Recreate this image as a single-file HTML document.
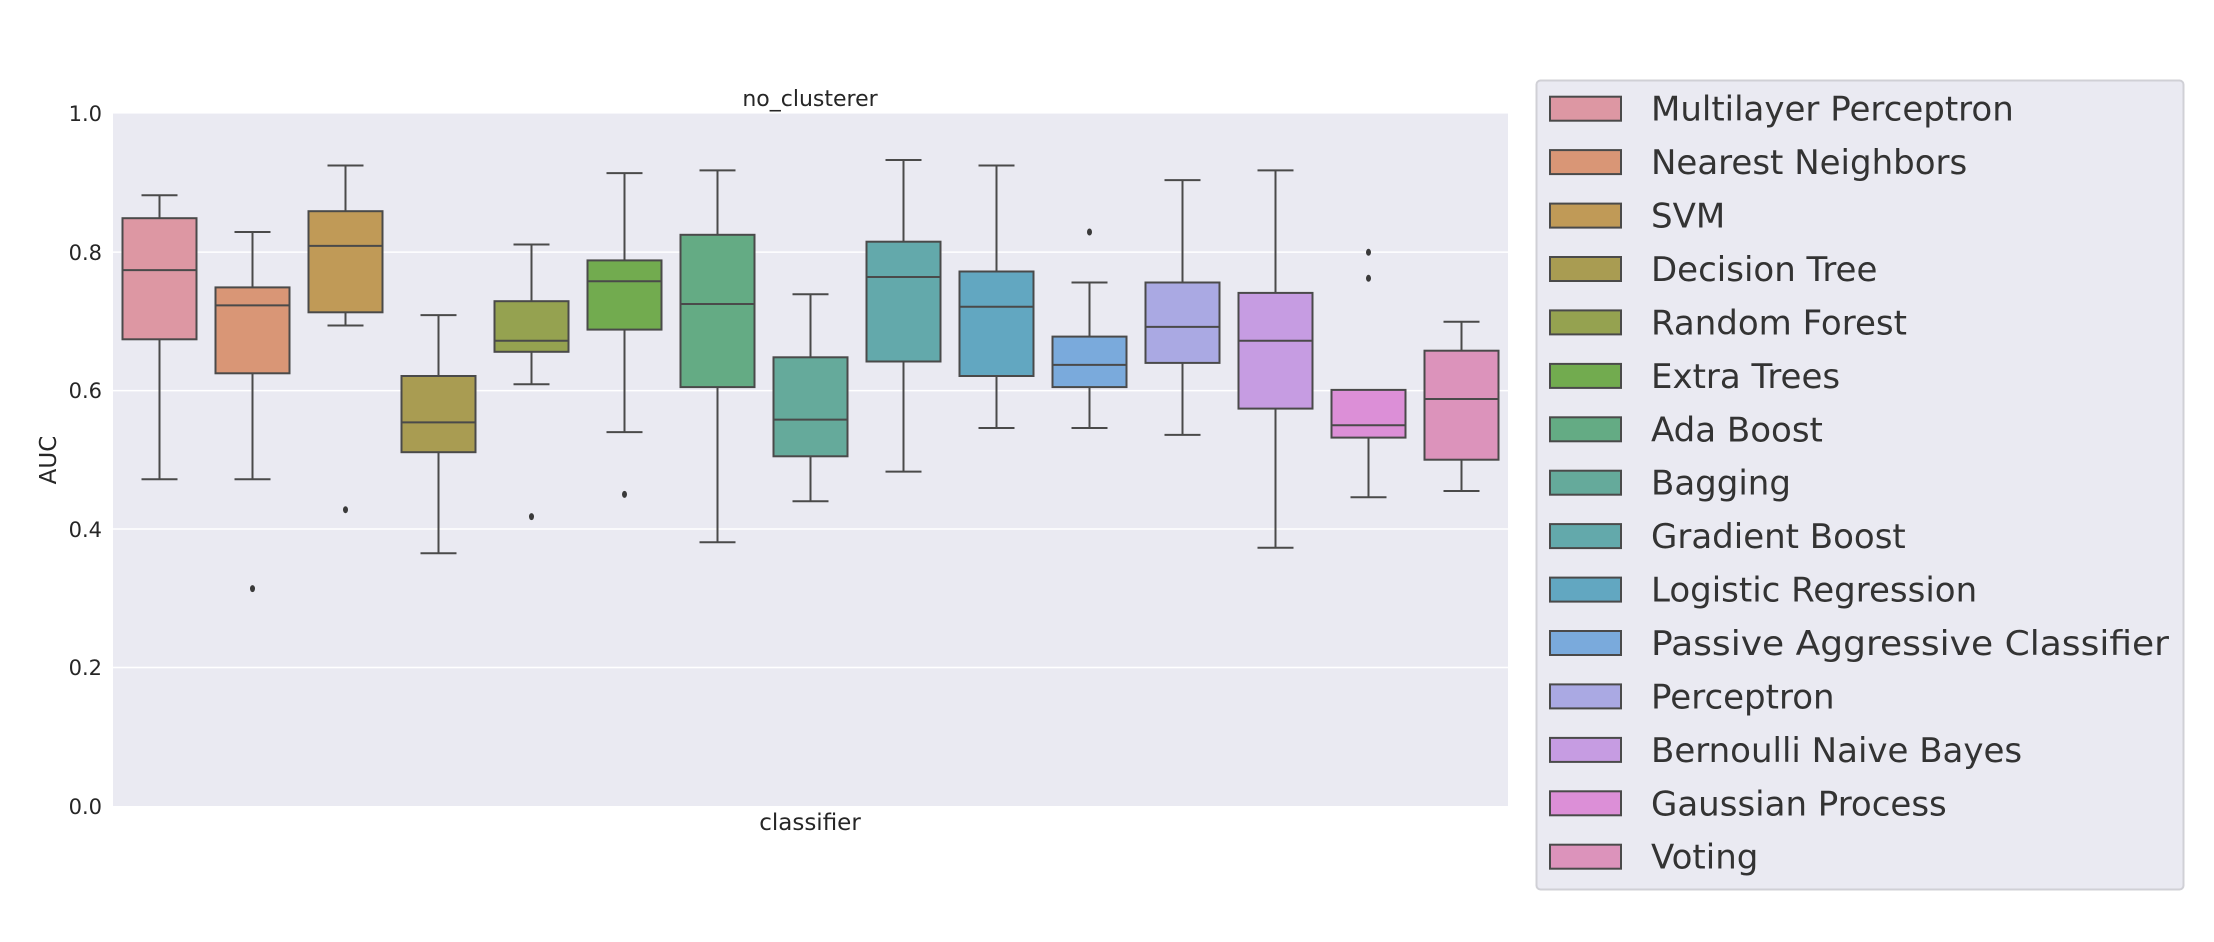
<!DOCTYPE html>
<html><head><meta charset="utf-8"><style>html,body{margin:0;padding:0;background:#fff}svg{display:block}</style></head><body>
<svg width="2214" height="942" xmlns="http://www.w3.org/2000/svg" font-family="'DejaVu Sans','Liberation Sans',sans-serif">
<rect x="113" y="113.6" width="1395" height="692.4" fill="#eaeaf2"/>
<g stroke="#fff" stroke-width="1.5">
<line x1="113" x2="1508" y1="667.5" y2="667.5"/><line x1="113" x2="1508" y1="529" y2="529"/>
<line x1="113" x2="1508" y1="390.6" y2="390.6"/><line x1="113" x2="1508" y1="252.1" y2="252.1"/>
</g>
<g font-size="21" fill="#262626" text-anchor="end">
<text x="102" y="121">1.0</text><text x="102" y="260">0.8</text><text x="102" y="398">0.6</text>
<text x="102" y="537">0.4</text><text x="102" y="675">0.2</text><text x="102" y="814">0.0</text>
</g>
<text x="810" y="106" font-size="22" fill="#262626" text-anchor="middle">no_clusterer</text>
<text x="810" y="830" font-size="23" fill="#262626" text-anchor="middle">classifier</text>
<text transform="translate(56,460) rotate(-90)" font-size="23" fill="#262626" text-anchor="middle">AUC</text>
<g stroke="#4a4a4a" stroke-width="2">
<line x1="159.5" x2="159.5" y1="195.3" y2="479.2"/><line x1="141.5" x2="177.5" y1="195.3" y2="195.3"/><line x1="141.5" x2="177.5" y1="479.2" y2="479.2"/>
<rect x="122.5" y="218.2" width="74" height="121.1" fill="#dd97a3"/><line x1="122.5" x2="196.5" y1="270.1" y2="270.1"/>
<line x1="252.5" x2="252.5" y1="232" y2="479.2"/><line x1="234.5" x2="270.5" y1="232" y2="232"/><line x1="234.5" x2="270.5" y1="479.2" y2="479.2"/>
<rect x="215.5" y="287.4" width="74" height="85.9" fill="#d99676"/><line x1="215.5" x2="289.5" y1="305.4" y2="305.4"/>
<line x1="345.5" x2="345.5" y1="165.5" y2="325.5"/><line x1="327.5" x2="363.5" y1="165.5" y2="165.5"/><line x1="327.5" x2="363.5" y1="325.5" y2="325.5"/>
<rect x="308.5" y="211.2" width="74" height="101.1" fill="#c09a57"/><line x1="308.5" x2="382.5" y1="245.9" y2="245.9"/>
<line x1="438.5" x2="438.5" y1="315.1" y2="553.3"/><line x1="420.5" x2="456.5" y1="315.1" y2="315.1"/><line x1="420.5" x2="456.5" y1="553.3" y2="553.3"/>
<rect x="401.5" y="376" width="74" height="76.2" fill="#a99c52"/><line x1="401.5" x2="475.5" y1="422.4" y2="422.4"/>
<line x1="531.5" x2="531.5" y1="244.5" y2="384.3"/><line x1="513.5" x2="549.5" y1="244.5" y2="244.5"/><line x1="513.5" x2="549.5" y1="384.3" y2="384.3"/>
<rect x="494.5" y="301.2" width="74" height="50.6" fill="#95a250"/><line x1="494.5" x2="568.5" y1="340.7" y2="340.7"/>
<line x1="624.5" x2="624.5" y1="173.1" y2="432.1"/><line x1="606.5" x2="642.5" y1="173.1" y2="173.1"/><line x1="606.5" x2="642.5" y1="432.1" y2="432.1"/>
<rect x="587.5" y="260.4" width="74" height="69.2" fill="#72ab4f"/><line x1="587.5" x2="661.5" y1="281.2" y2="281.2"/>
<line x1="717.5" x2="717.5" y1="170.4" y2="542.2"/><line x1="699.5" x2="735.5" y1="170.4" y2="170.4"/><line x1="699.5" x2="735.5" y1="542.2" y2="542.2"/>
<rect x="680.5" y="234.8" width="74" height="152.3" fill="#64ab84"/><line x1="680.5" x2="754.5" y1="304" y2="304"/>
<line x1="810.5" x2="810.5" y1="294.3" y2="501.3"/><line x1="792.5" x2="828.5" y1="294.3" y2="294.3"/><line x1="792.5" x2="828.5" y1="501.3" y2="501.3"/>
<rect x="773.5" y="357.3" width="74" height="99" fill="#65aa9b"/><line x1="773.5" x2="847.5" y1="419.6" y2="419.6"/>
<line x1="903.5" x2="903.5" y1="160" y2="471.6"/><line x1="885.5" x2="921.5" y1="160" y2="160"/><line x1="885.5" x2="921.5" y1="471.6" y2="471.6"/>
<rect x="866.5" y="241.7" width="74" height="119.8" fill="#63a9ab"/><line x1="866.5" x2="940.5" y1="277" y2="277"/>
<line x1="996.5" x2="996.5" y1="165.5" y2="428"/><line x1="978.5" x2="1014.5" y1="165.5" y2="165.5"/><line x1="978.5" x2="1014.5" y1="428" y2="428"/>
<rect x="959.5" y="271.5" width="74" height="104.5" fill="#62a7c1"/><line x1="959.5" x2="1033.5" y1="306.8" y2="306.8"/>
<line x1="1089.5" x2="1089.5" y1="282.5" y2="428"/><line x1="1071.5" x2="1107.5" y1="282.5" y2="282.5"/><line x1="1071.5" x2="1107.5" y1="428" y2="428"/>
<rect x="1052.5" y="336.6" width="74" height="50.5" fill="#7aaadc"/><line x1="1052.5" x2="1126.5" y1="364.9" y2="364.9"/>
<line x1="1182.5" x2="1182.5" y1="180.1" y2="434.9"/><line x1="1164.5" x2="1200.5" y1="180.1" y2="180.1"/><line x1="1164.5" x2="1200.5" y1="434.9" y2="434.9"/>
<rect x="1145.5" y="282.5" width="74" height="80.4" fill="#aaa9e3"/><line x1="1145.5" x2="1219.5" y1="326.9" y2="326.9"/>
<line x1="1275.5" x2="1275.5" y1="170.4" y2="547.7"/><line x1="1257.5" x2="1293.5" y1="170.4" y2="170.4"/><line x1="1257.5" x2="1293.5" y1="547.7" y2="547.7"/>
<rect x="1238.5" y="292.9" width="74" height="115.7" fill="#c69ce2"/><line x1="1238.5" x2="1312.5" y1="340.7" y2="340.7"/>
<line x1="1368.5" x2="1368.5" y1="389.9" y2="497.2"/><line x1="1350.5" x2="1386.5" y1="497.2" y2="497.2"/>
<rect x="1331.5" y="389.9" width="74" height="47.7" fill="#dc8fd7"/><line x1="1331.5" x2="1405.5" y1="425.2" y2="425.2"/>
<line x1="1461.5" x2="1461.5" y1="321.7" y2="491"/><line x1="1443.5" x2="1479.5" y1="321.7" y2="321.7"/><line x1="1443.5" x2="1479.5" y1="491" y2="491"/>
<rect x="1424.5" y="350.7" width="74" height="109" fill="#dc93bb"/><line x1="1424.5" x2="1498.5" y1="399" y2="399"/>
</g>
<g fill="#3a3a3a">
<ellipse cx="252.5" cy="588.6" rx="2.5" ry="3.5"/><ellipse cx="345.5" cy="509.7" rx="2.5" ry="3.5"/>
<ellipse cx="531.5" cy="516.6" rx="2.5" ry="3.5"/><ellipse cx="624.5" cy="494.4" rx="2.5" ry="3.5"/>
<ellipse cx="1089.5" cy="232" rx="2.5" ry="3.5"/><ellipse cx="1368.5" cy="252.3" rx="2.5" ry="3.5"/>
<ellipse cx="1368.5" cy="278.3" rx="2.5" ry="3.5"/>
</g>
<rect x="1536.5" y="80.5" width="647" height="809" rx="4" fill="#eaeaf2" stroke="#d0d0d6" stroke-width="2"/>
<g stroke="#4a4a4a" stroke-width="2">
<rect x="1550" y="96.7" width="71" height="24" fill="#dd97a3"/>
<rect x="1550" y="150.1" width="71" height="24" fill="#d99676"/>
<rect x="1550" y="203.6" width="71" height="24" fill="#c09a57"/>
<rect x="1550" y="257" width="71" height="24" fill="#a99c52"/>
<rect x="1550" y="310.4" width="71" height="24" fill="#95a250"/>
<rect x="1550" y="363.9" width="71" height="24" fill="#72ab4f"/>
<rect x="1550" y="417.3" width="71" height="24" fill="#64ab84"/>
<rect x="1550" y="470.7" width="71" height="24" fill="#65aa9b"/>
<rect x="1550" y="524.1" width="71" height="24" fill="#63a9ab"/>
<rect x="1550" y="577.6" width="71" height="24" fill="#62a7c1"/>
<rect x="1550" y="631" width="71" height="24" fill="#7aaadc"/>
<rect x="1550" y="684.4" width="71" height="24" fill="#aaa9e3"/>
<rect x="1550" y="737.9" width="71" height="24" fill="#c69ce2"/>
<rect x="1550" y="791.3" width="71" height="24" fill="#dc8fd7"/>
<rect x="1550" y="844.7" width="71" height="24" fill="#dc93bb"/>
</g>
<g font-size="34" fill="#333">
<text x="1651" y="120.7">Multilayer Perceptron</text>
<text x="1651" y="174.1">Nearest Neighbors</text>
<text x="1651" y="227.6">SVM</text>
<text x="1651" y="281">Decision Tree</text>
<text x="1651" y="334.4">Random Forest</text>
<text x="1651" y="387.9">Extra Trees</text>
<text x="1651" y="441.3">Ada Boost</text>
<text x="1651" y="494.7">Bagging</text>
<text x="1651" y="548.1">Gradient Boost</text>
<text x="1651" y="601.6">Logistic Regression</text>
<text x="1651" y="655" textLength="518" lengthAdjust="spacingAndGlyphs">Passive Aggressive Classifier</text>
<text x="1651" y="708.4">Perceptron</text>
<text x="1651" y="761.9">Bernoulli Naive Bayes</text>
<text x="1651" y="815.3">Gaussian Process</text>
<text x="1651" y="868.7">Voting</text>
</g>
</svg>
</body></html>
